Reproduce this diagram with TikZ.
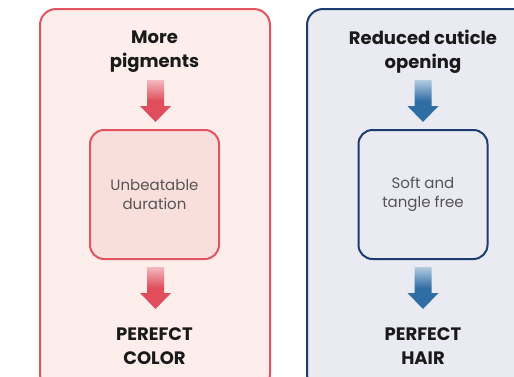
\documentclass[tikz,border=0pt]{standalone}
\usepackage{fontspec}
\setmainfont{Poppins}
\usetikzlibrary{calc}
\definecolor{redline}{HTML}{E0555F}
\definecolor{redfill}{HTML}{FDEEEC}
\definecolor{redinner}{HTML}{F9DFDC}
\definecolor{redarr}{HTML}{E04D5C}
\definecolor{redarrlight}{HTML}{F3B9BF}
\definecolor{blueline}{HTML}{1C3B6E}
\definecolor{bluefill}{HTML}{E9EAF2}
\definecolor{bluearr}{HTML}{2F6DA5}
\definecolor{bluearrlight}{HTML}{B3CBE1}
\definecolor{txt}{HTML}{1A1A1A}
\definecolor{lighttxt}{HTML}{555555}
\tikzset{
  outerbox/.style={rectangle, rounded corners=16pt, line width=2pt, minimum width=230pt, minimum height=381pt},
  innerbox/.style={rectangle, rounded corners=14pt, line width=2pt, minimum width=129pt, minimum height=129pt, align=center, text=lighttxt, font=\fontsize{15}{19}\selectfont},
  headtxt/.style={align=center, text=txt, font=\fontsize{18}{24}\selectfont\bfseries},
  redshade/.style={top color=redarrlight, bottom color=redarr, middle color=redarr},
  blueshade/.style={top color=bluearrlight, bottom color=bluearr, middle color=bluearr},
  pics/downarr/.style={code={
    \shade[#1] (-8.5,0) -- (8.5,0) -- (8.5,-26) -- (15.5,-26) -- (0,-42) -- (-15.5,-26) -- (-8.5,-26) -- cycle;
  }}
}
\begin{document}
\begin{tikzpicture}[x=1pt,y=1pt]
\useasboundingbox (0,0) rectangle (514,-376);
\clip (0,0) rectangle (514,-376);
% left column
\node[outerbox, draw=redline, fill=redfill] (L) at (155,-199.5) {};
\node[headtxt] (Ltop) at (154.5,-52) {More\\pigments};
\node[innerbox, draw=redline, fill=redinner] (Lin) at (154.5,-194.5) {Unbeatable\\duration};
\node[headtxt] (Lbot) at (154.5,-346) {PEREFCT\\COLOR};
\coordinate (La1) at (155.5,-80);
\coordinate (La2) at (155.5,-267);
\pic at (La1) {downarr=redshade};
\pic at (La2) {downarr=redshade};
% right column
\node[outerbox, draw=blueline, fill=bluefill, minimum width=233pt] (R) at (423.5,-199.5) {};
\node[headtxt] (Rtop) at (423,-52) {Reduced cuticle\\opening};
\node[innerbox, draw=blueline, fill=bluefill] (Rin) at (423,-194.5) {Soft and\\tangle free};
\node[headtxt] (Rbot) at (423,-346) {PERFECT\\HAIR};
\coordinate (Ra1) at (423,-80);
\coordinate (Ra2) at (423,-267);
\pic at (Ra1) {downarr=blueshade};
\pic at (Ra2) {downarr=blueshade};
\end{tikzpicture}
\end{document}
